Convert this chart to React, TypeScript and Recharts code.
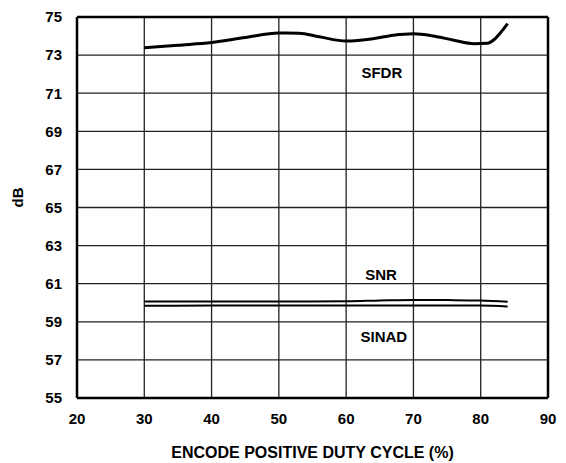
import {
  CartesianGrid,
  Line,
  LineChart,
  ReferenceDot,
  ReferenceLine,
  XAxis,
  YAxis,
} from 'recharts';

const sfdrDuty = [30, 35, 40, 45, 50, 53, 56, 60, 64, 67, 70, 73, 76, 79, 81, 82, 83, 84];
const sfdrDb = [73.38, 73.52, 73.66, 73.92, 74.16, 74.15, 73.96, 73.74, 73.86, 74.04, 74.12, 74.0, 73.78, 73.6, 73.62, 73.82, 74.2, 74.65];

const noiseDuty = [30, 40, 50, 60, 65, 70, 75, 80, 84];
const snrDb = [60.06, 60.07, 60.07, 60.08, 60.12, 60.15, 60.14, 60.12, 60.05];
const sinadDb = [59.84, 59.85, 59.85, 59.86, 59.86, 59.86, 59.86, 59.85, 59.8];

const xTicks = [20, 30, 40, 50, 60, 70, 80, 90];
const yTicks = [55, 57, 59, 61, 63, 65, 67, 69, 71, 73, 75];

const sfdrData = sfdrDuty.map((d, i) => ({ duty: d, value: sfdrDb[i] }));
const snrData = noiseDuty.map((d, i) => ({ duty: d, value: snrDb[i] }));
const sinadData = noiseDuty.map((d, i) => ({ duty: d, value: sinadDb[i] }));

const font = '"Liberation Sans", Arial, sans-serif';
const tick = { fill: '#000', fontSize: 15, fontWeight: 700, fontFamily: font };

const curveLabel = (text: string) => ({
  value: text,
  position: 'center' as const,
  fill: '#000',
  fontSize: 15,
  fontWeight: 700,
  fontFamily: font,
});

export default function App() {
  return (
    <div style={{ position: 'fixed', left: 0, top: 0, background: '#fff' }}>
      <LineChart
        width={566}
        height={463}
        margin={{ top: 17, right: 18, bottom: 35, left: 37 }}
      >
        <CartesianGrid stroke="#222" strokeWidth={1.3} />
        <XAxis
          type="number"
          dataKey="duty"
          domain={[20, 90]}
          ticks={xTicks}
          tickLine={false}
          axisLine={{ stroke: '#000', strokeWidth: 2.5 }}
          tick={tick}
          tickMargin={9}
          height={30}
          allowDuplicatedCategory={false}
          label={{
            value: 'ENCODE POSITIVE DUTY CYCLE (%)',
            position: 'insideBottom',
            offset: -30,
            fill: '#000',
            fontSize: 16,
            fontWeight: 700,
            fontFamily: font,
          }}
        />
        <YAxis
          type="number"
          domain={[55, 75]}
          ticks={yTicks}
          tickLine={false}
          axisLine={{ stroke: '#000', strokeWidth: 2.5 }}
          tick={tick}
          tickMargin={9}
          width={40}
          label={{
            value: 'dB',
            angle: -90,
            position: 'insideLeft',
            offset: -19,
            fill: '#000',
            fontSize: 15,
            fontWeight: 700,
            fontFamily: font,
          }}
        />
        <ReferenceLine y={75} stroke="#000" strokeWidth={2.5} />
        <ReferenceLine x={90} stroke="#000" strokeWidth={2.5} />
        <Line
          data={sfdrData}
          dataKey="value"
          type="monotone"
          stroke="#000"
          strokeWidth={3}
          dot={false}
          isAnimationActive={false}
        />
        <Line
          data={snrData}
          dataKey="value"
          type="monotone"
          stroke="#000"
          strokeWidth={2}
          dot={false}
          isAnimationActive={false}
        />
        <Line
          data={sinadData}
          dataKey="value"
          type="monotone"
          stroke="#000"
          strokeWidth={2}
          dot={false}
          isAnimationActive={false}
        />
        <ReferenceDot x={65.3} y={72.1} r={0} label={curveLabel('SFDR')} />
        <ReferenceDot x={65.2} y={61.45} r={0} label={curveLabel('SNR')} />
        <ReferenceDot x={65.6} y={58.2} r={0} label={curveLabel('SINAD')} />
      </LineChart>
    </div>
  );
}
